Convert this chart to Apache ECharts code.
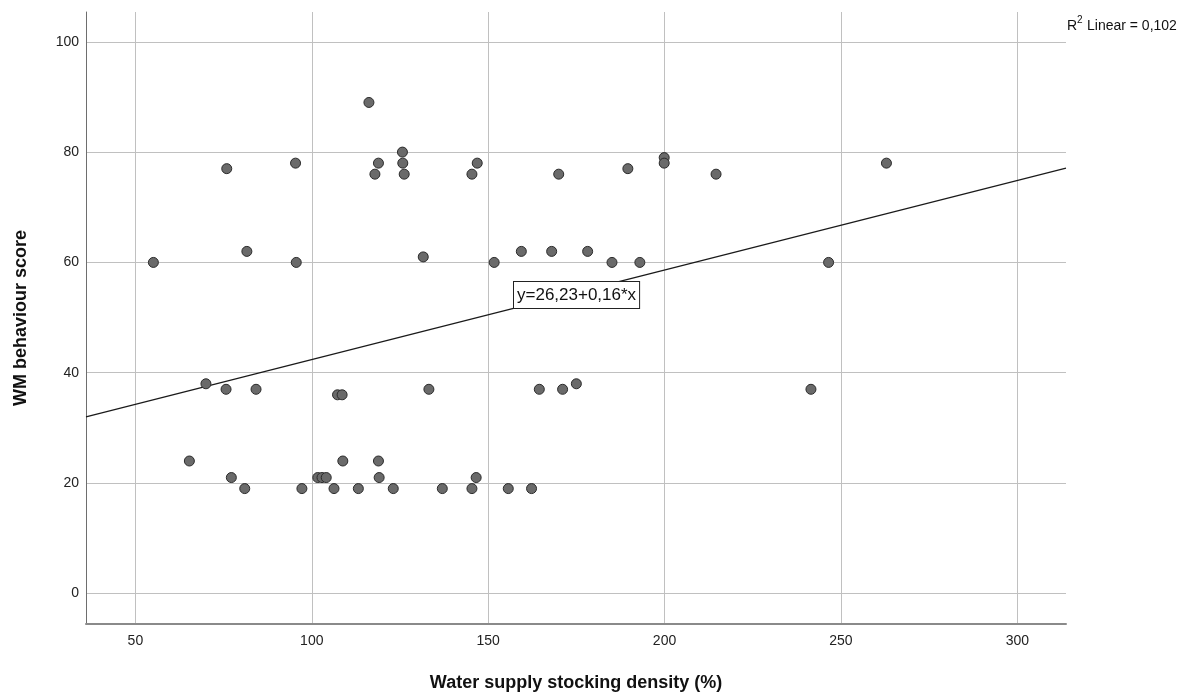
<!DOCTYPE html>
<html>
<head>
<meta charset="utf-8">
<script src="https://cdn.jsdelivr.net/npm/echarts@6/dist/echarts.min.js"></script>
<style>
html,body{margin:0;padding:0;background:#fff;}
#chart{width:1199px;height:698px;}
</style>
</head>
<body>
<div id="chart"></div>
<script>
// Water supply stocking density (%)
const xValues = [55.1,75.9,81.6,95.4,95.6,116.2,117.9,118.9,125.7,125.8,126.2,131.6,145.4,146.9,151.7,159.4,168.0,170.0,178.2,185.1,189.6,193.0,199.9,199.9,214.6,262.9,246.5,70.0,75.7,84.2,107.3,108.6,133.2,65.3,77.2,81.0,97.2,101.7,102.9,104.1,106.3,108.8,113.2,118.9,119.1,123.1,164.5,171.1,175.0,241.5,137.0,145.4,146.6,155.7,162.3];
// WM behaviour score
const yValues = [60,77,62,78,60,89,76,78,80,78,76,61,76,78,60,62,62,76,62,60,77,60,79,78,76,78,60,38,37,37,36,36,37,24,21,19,19,21,21,21,19,24,19,24,21,19,37,37,38,37,19,19,21,19,19];
// fit line end points
const fitX = [36, 313.8];
const fitY = [32.0, 77.1];
const xTicks = [50,100,150,200,250,300];
const yTicks = [0,20,40,60,80,100];
const equationText = 'y=26,23+0,16*x';
const r2Text = 'Linear = 0,102';

const points = xValues.map((x,i)=>[x,yValues[i]]);
const fitLine = fitX.map((x,i)=>[x,fitY[i]]);

const chart = echarts.init(document.getElementById('chart'));
const font = 'Liberation Sans, Arial, sans-serif';
chart.setOption({
  animation:false,
  backgroundColor:'#fff',
  grid:{left:86,right:133,top:12,bottom:74},
  xAxis:{
    type:'value',min:36,max:313.8,
    name:'Water supply stocking density (%)',
    nameLocation:'middle',nameGap:50,
    nameTextStyle:{fontFamily:font,fontWeight:'bold',fontSize:18,color:'#111'},
    axisLine:{show:true,onZero:false,lineStyle:{color:'#8a8a8a',width:2}},
    axisTick:{show:false,customValues:xTicks},
    axisLabel:{customValues:xTicks,fontFamily:font,fontSize:14,color:'#222',margin:10},
    splitLine:{show:true,lineStyle:{color:'#c0c0c0',width:1}}
  },
  yAxis:{
    type:'value',min:-5.55,max:105.4,
    name:'WM behaviour score',
    nameLocation:'middle',nameGap:56,
    nameTextStyle:{fontFamily:font,fontWeight:'bold',fontSize:18,color:'#111'},
    axisLine:{show:true,onZero:false,lineStyle:{color:'#6e6e6e',width:1}},
    axisTick:{show:false,customValues:yTicks},
    axisLabel:{customValues:yTicks,fontFamily:font,fontSize:14,color:'#222',margin:7},
    splitLine:{show:true,lineStyle:{color:'#c0c0c0',width:1}}
  },
  series:[
    {
      type:'line',data:fitLine,symbol:'none',silent:true,
      lineStyle:{color:'#1a1a1a',width:1.2},z:3
    },
    {
      type:'scatter',data:points,symbol:'circle',symbolSize:10,
      itemStyle:{color:'#6a6a6a',borderColor:'#2b2b2b',borderWidth:1,opacity:1},z:4
    }
  ],
  graphic:[
    {
      type:'text',left:513,top:281,z:10,
      style:{text:equationText,font:'17px '+font,fill:'#111',
        backgroundColor:'#fff',borderColor:'#222',borderWidth:1,padding:[5,3,4,3]}
    },
    {
      type:'text',left:1067,top:19,z:10,
      style:{text:'R',font:'14px '+font,fill:'#111'}
    },
    {
      type:'text',left:1077,top:15,z:10,
      style:{text:'2',font:'10px '+font,fill:'#111'}
    },
    {
      type:'text',left:1087,top:19,z:10,
      style:{text:r2Text,font:'14px '+font,fill:'#111'}
    }
  ]
});
</script>
</body>
</html>
